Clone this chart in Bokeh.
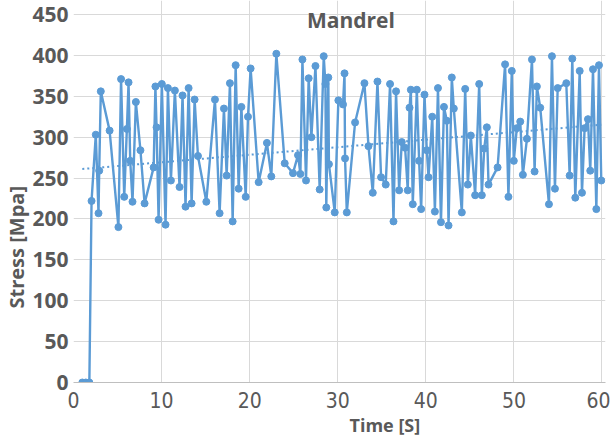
import numpy as np
from bokeh.plotting import figure
from bokeh.models import Range1d, FixedTicker, Label, ColumnDataSource, Title
from bokeh.embed import file_html
from bokeh.resources import INLINE

time_s = [1.0, 1.4, 1.8, 2.05, 2.53, 2.84, 2.92, 3.1, 4.1, 5.1, 5.4, 5.76, 6.06, 6.25, 6.44, 6.7,
          7.08, 7.6, 8.07, 9.1, 9.3, 9.43, 9.66, 10.03, 10.45, 10.72, 11.06, 11.51, 12.04, 12.38,
          12.72, 13.07, 13.41, 13.75, 14.13, 15.08, 16.06, 16.59, 17.08, 17.39, 17.76, 18.07,
          18.41, 18.75, 19.06, 19.55, 19.81, 20.11, 21.02, 21.96, 22.46, 23.03, 23.98, 24.92,
          25.49, 25.76, 25.99, 26.40, 26.70, 27.01, 27.47, 27.95, 28.41, 28.60, 28.70, 28.93,
          29.0, 29.66, 30.07, 30.6, 30.77, 30.83, 31.03, 31.97, 33.03, 33.49, 33.98, 34.51,
          34.92, 35.45, 35.94, 36.33, 36.62, 36.97, 37.27, 37.65, 37.95, 38.15, 38.30, 38.52,
          38.98, 39.24, 39.47, 39.85, 40.11, 40.31, 40.73, 41.03, 41.38, 41.72, 42.06, 42.39,
          42.58, 42.95, 43.18, 44.09, 44.47, 44.77, 45.11, 45.60, 46.06, 46.36, 46.63, 46.93,
          47.12, 48.15, 49.0, 49.38, 49.76, 49.99, 50.33, 50.72, 51.02, 51.48, 52.05, 52.35,
          52.61, 52.99, 53.98, 54.32, 54.66, 54.97, 55.95, 56.33, 56.63, 56.97, 57.47, 57.73,
          58.03, 58.41, 58.67, 58.98, 59.36, 59.66, 59.92]
stress_mpa = [0, 0, 0, 222, 303, 207, 259, 356, 308, 190, 371, 227, 310, 367, 271, 221,
              343, 284, 219, 263, 362, 312, 199, 365, 193, 360, 247, 357, 239, 351,
              215, 360, 219, 346, 277, 221, 346, 207, 335, 253, 366, 197,
              388, 237, 337, 227, 325, 384, 245, 293, 252, 402, 268, 256,
              278, 255, 395, 247, 372, 300, 387, 236, 399, 365, 214, 373,
              267, 208, 345, 340, 378, 274, 208, 318, 366, 289, 232, 368,
              251, 242, 365, 197, 356, 235, 294, 287, 235, 336, 358, 218,
              358, 271, 212, 352, 284, 251, 325, 209, 360, 196, 337, 320,
              192, 373, 335, 208, 359, 242, 302, 229, 365, 229, 286, 312,
              242, 263, 389, 227, 381, 271, 311, 319, 254, 298, 395, 258,
              362, 336, 218, 399, 237, 360, 366, 253, 396, 226, 381, 232,
              311, 322, 259, 383, 212, 388, 247]
x_ticks = [0, 10, 20, 30, 40, 50, 60]
y_ticks = [0, 50, 100, 150, 200, 250, 300, 350, 400, 450]

TEXT = "#595959"
BLUE = "#5B9BD5"
NARROW = "'Liberation Sans Narrow', 'DejaVu Sans Condensed', 'Roboto Condensed', sans-serif"

p = figure(width=610, height=436, output_backend="svg", toolbar_location=None, title=None,
           x_range=Range1d(0, 60.4), y_range=Range1d(0, 467.1),
           min_border_left=73, min_border_right=5, min_border_top=0, min_border_bottom=54)
p.outline_line_color = None
p.background_fill_color = "white"
p.border_fill_color = "white"

p.xaxis.ticker = FixedTicker(ticks=x_ticks)
p.yaxis.ticker = FixedTicker(ticks=y_ticks)
p.xgrid.ticker = FixedTicker(ticks=x_ticks)
p.ygrid.ticker = FixedTicker(ticks=y_ticks)
p.xgrid.grid_line_color = "#D9D9D9"
p.ygrid.grid_line_color = "#D9D9D9"
p.xgrid.bounds = (0, 60)
p.ygrid.bounds = (0, 450)

p.yaxis.axis_line_color = None
p.yaxis.major_tick_line_color = None
p.yaxis.minor_tick_line_color = None
p.yaxis.major_tick_out = 0
p.yaxis.major_label_text_font = "Open Sans"
p.yaxis.major_label_text_font_style = "bold"
p.yaxis.major_label_text_font_size = "21px"
p.yaxis.major_label_text_color = TEXT
p.yaxis.major_label_standoff = 5

p.xaxis.axis_line_color = "#BFBFBF"
p.xaxis.major_tick_line_color = None
p.xaxis.minor_tick_line_color = None
p.xaxis.major_tick_out = 0
p.xaxis.major_label_text_font = NARROW
p.xaxis.major_label_text_font_size = "21px"
p.xaxis.major_label_text_color = TEXT
p.xaxis.major_label_standoff = 9

src = ColumnDataSource(dict(t=time_s, v=stress_mpa))
p.line("t", "v", source=src, line_color=BLUE, line_width=2.4)
p.scatter("t", "v", source=src, size=7, fill_color=BLUE, line_color=BLUE)

# linear trend line
coef = np.polyfit(np.array(time_s), np.array(stress_mpa), 1)
tt = [time_s[0], time_s[-1]]
p.line(tt, [coef[0] * x + coef[1] for x in tt], line_color=BLUE, line_width=2,
       line_dash="2 3")

p.add_layout(Label(x=31.5, y=443, text="Mandrel", text_font="Open Sans",
                   text_font_style="bold", text_font_size="21px", text_color=TEXT,
                   text_align="center", text_baseline="middle"))

p.add_layout(Title(text="Time [S]", align="left", offset=276, standoff=0,
                   text_font="Open Sans", text_font_style="bold", text_font_size="18px",
                   text_color=TEXT), "below")
p.add_layout(Title(text="Stress [Mpa]", align="left", offset=74, standoff=0,
                   text_font="Open Sans", text_font_style="bold", text_font_size="20px",
                   text_color=TEXT), "left")

open("out.html", "w").write(file_html(p, INLINE))
